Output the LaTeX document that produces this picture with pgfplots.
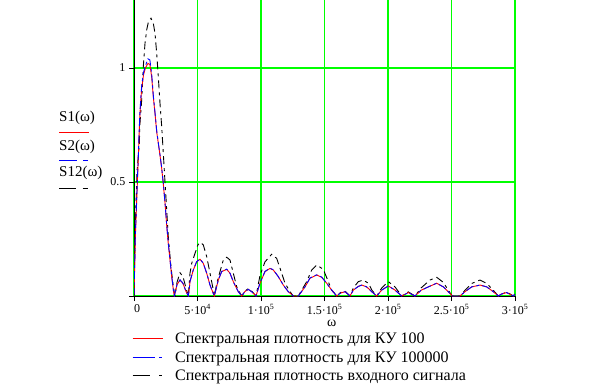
\documentclass[border=0pt]{standalone}
\usepackage{fontspec}
\setmainfont{Liberation Serif}
\usepackage{pgfplots}
\pgfplotsset{compat=1.18}
\definecolor{gridgreen}{RGB}{0,255,0}
\begin{document}
\begin{tikzpicture}[x=1pt,y=1pt]
\path[use as bounding box] (0,0) rectangle (599,384);
\begin{axis}[
  at={(134pt,88pt)}, anchor=south west,
  scale only axis, width=381pt, height=296pt,
  xmin=0, xmax=30, ymin=0, ymax=1.298,
  axis x line=bottom, axis y line=left,
  axis line style={-, line width=0.9pt, black},
  xtick={0,5,10,15,20,25,30}, ytick={0,0.5,1},
  xticklabels={\makebox[0pt][l]{0}, 5·10\textsuperscript{4}, 1·10\textsuperscript{5}, 1.5·10\textsuperscript{5}, 2·10\textsuperscript{5}, 2.5·10\textsuperscript{5}, 3·10\textsuperscript{5}},
  yticklabels={,0.5,1},
  tick align=outside, major tick length=5pt,
  every tick/.style={black, line width=0.8pt},
  xmajorgrids, ymajorgrids,
  every axis grid/.style={draw=gridgreen, line width=1.4pt},
  major grid style={draw=gridgreen, line width=1.4pt},
  ticklabel style={font=\fontsize{12}{14}\selectfont},
  /pgf/number format/assume math mode=true,
]
\addplot[black, line width=0.9pt, dash pattern=on 8pt off 4pt on 3pt off 4pt] coordinates {
(0,0)(0.05,0.15)(0.1,0.3)(0.24,0.55)(0.42,0.67)(0.47,0.757)(0.606,0.86)(0.732,1.006)(0.811,1.064)(0.866,1.108)(1.0,1.167)(1.126,1.20)(1.339,1.218)(1.52,1.196)(1.654,1.152)(1.787,1.064)(1.913,0.962)(2.047,0.845)(2.181,0.743)(2.307,0.626)(2.441,0.5)(2.575,0.377)(2.701,0.26)(2.835,0.173)(2.969,0.1)(3.10,0.04)(3.228,0)
(3.386,0.06)(3.622,0.102)(3.858,0.085)(4.094,0.035)(4.276,0)
(4.409,0.1)(4.543,0.143)(4.803,0.187)(5.04,0.225)(5.252,0.235)(5.457,0.224)(5.724,0.173)(5.984,0.1)(6.244,0.026)(6.323,0)
(6.535,0.06)(6.772,0.107)(7.031,0.158)(7.299,0.17)(7.559,0.158)(7.819,0.1)(8.087,0.04)(8.48,0)
(8.74,0.022)(9.0,0.032)(9.29,0.02)(9.606,0)
(9.921,0.09)(10.315,0.15)(10.843,0.183)(11.236,0.165)(11.63,0.1)(11.89,0.056)(12.283,0.019)(12.543,0)(12.937,0)
(13.2,0.025)(13.598,0.063)(13.992,0.114)(14.386,0.136)(14.906,0.117)(15.299,0.063)(15.567,0.026)(15.961,0)
(16.25,0.015)(16.614,0.022)(17.008,0)
(17.268,0.035)(17.661,0.063)(18.055,0.07)(18.449,0.056)(18.74,0.025)(19.11,0)
(19.504,0.035)(20.024,0.063)(20.551,0.04)(21.079,0)
(21.598,0.018)(22.126,0)
(22.598,0.035)(23.307,0.07)(23.835,0.082)(24.354,0.06)(24.748,0.025)(25.063,0)(25.669,0)
(26.063,0.025)(26.591,0.055)(27.244,0.07)(27.772,0.055)(28.291,0.025)(28.685,0)
(29.346,0.018)(29.866,0)(30,0.01)
};
\addplot[red, line width=0.9pt] coordinates {
(0,0)(0.05,0.12)(0.1,0.25)(0.2,0.4)(0.28,0.52)(0.34,0.6)(0.39,0.69)(0.47,0.8)(0.6,0.91)(0.75,0.97)(0.9,1.0)(1.1,1.02)(1.25,1.015)(1.39,0.962)(1.52,0.874)(1.654,0.80)(1.787,0.72)(1.913,0.67)(2.04,0.62)(2.18,0.56)(2.31,0.49)(2.44,0.41)(2.575,0.31)(2.70,0.23)(2.835,0.158)(2.97,0.085)(3.10,0.026)(3.17,0)
(3.386,0.05)(3.622,0.07)(3.858,0.055)(4.094,0.02)(4.276,0)
(4.35,0.03)(4.409,0.063)(4.669,0.114)(4.937,0.15)(5.197,0.161)(5.457,0.143)(5.724,0.1)(5.984,0.048)(6.323,0)
(6.638,0.07)(6.906,0.107)(7.299,0.117)(7.559,0.1)(7.819,0.063)(8.213,0.019)(8.48,0)
(8.74,0.02)(9.0,0.029)(9.291,0.018)(9.606,0)
(9.921,0.056)(10.315,0.107)(10.709,0.121)(10.969,0.114)(11.362,0.085)(11.756,0.048)(12.15,0.019)(12.543,0)(12.937,0)
(13.465,0.04)(13.858,0.078)(14.386,0.092)(14.78,0.082)(15.173,0.056)(15.567,0.026)(15.961,0)
(16.22,0.012)(16.614,0.019)(17.008,0)
(17.268,0.026)(17.661,0.042)(17.929,0.048)(18.323,0.04)(18.717,0.019)(19.11,0)
(19.504,0.026)(20.024,0.044)(20.551,0.026)(21.079,0)
(21.598,0.015)(22.126,0)
(22.598,0.025)(23.173,0.04)(23.835,0.056)(24.354,0.04)(24.748,0.019)(25.063,0)(25.669,0)
(26.063,0.019)(26.591,0.04)(27.244,0.048)(27.772,0.04)(28.291,0.019)(28.685,0)
(28.976,0.01)(29.346,0.015)(29.685,0.005)(29.866,0)(30,0.008)
};
\addplot[blue, line width=0.9pt, dash pattern=on 8pt off 3pt on 3pt off 3pt] coordinates {
(0,0)(0.05,0.13)(0.1,0.26)(0.2,0.41)(0.28,0.53)(0.34,0.61)(0.39,0.70)(0.47,0.81)(0.6,0.92)(0.75,0.98)(0.9,1.01)(1.1,1.04)(1.25,1.035)(1.39,0.975)(1.52,0.88)(1.654,0.805)(1.787,0.725)(1.913,0.672)(2.04,0.622)(2.18,0.562)(2.31,0.492)(2.44,0.412)(2.575,0.312)(2.70,0.232)(2.835,0.16)(2.97,0.087)(3.10,0.027)(3.17,0)
(3.386,0.05)(3.622,0.071)(3.858,0.056)(4.094,0.02)(4.276,0)
(4.35,0.03)(4.409,0.064)(4.669,0.115)(4.937,0.151)(5.197,0.162)(5.457,0.144)(5.724,0.1)(5.984,0.048)(6.323,0)
(6.638,0.07)(6.906,0.108)(7.299,0.118)(7.559,0.1)(7.819,0.063)(8.213,0.019)(8.48,0)
(8.74,0.02)(9.0,0.029)(9.291,0.018)(9.606,0)
(9.921,0.057)(10.315,0.108)(10.709,0.122)(10.969,0.115)(11.362,0.085)(11.756,0.048)(12.15,0.019)(12.543,0)(12.937,0)
(13.465,0.04)(13.858,0.079)(14.386,0.093)(14.78,0.083)(15.173,0.056)(15.567,0.026)(15.961,0)
(16.22,0.012)(16.614,0.019)(17.008,0)
(17.268,0.026)(17.661,0.042)(17.929,0.048)(18.323,0.04)(18.717,0.019)(19.11,0)
(19.504,0.026)(20.024,0.044)(20.551,0.026)(21.079,0)
(21.598,0.015)(22.126,0)
(22.598,0.025)(23.173,0.04)(23.835,0.056)(24.354,0.04)(24.748,0.019)(25.063,0)(25.669,0)
(26.063,0.019)(26.591,0.04)(27.244,0.048)(27.772,0.04)(28.291,0.019)(28.685,0)
(28.976,0.01)(29.346,0.015)(29.685,0.005)(29.866,0)(30,0.008)
};
\end{axis}
% x label
\node[inner sep=0, font=\fontsize{14}{16}\selectfont] at (331.7,61) {ω};
% left labels
\node[anchor=west, inner sep=0, font=\fontsize{15}{17}\selectfont] at (59,265.7) {S1(ω)};
\draw[draw=red, line width=0.9pt] (59,251.7) -- (89,251.7);
\node[anchor=west, inner sep=0, font=\fontsize{15}{17}\selectfont] at (59,237.3) {S2(ω)};
\draw[draw=blue, line width=1.1pt] (59,223.3) -- (76.7,223.3) (83.3,223.3) -- (87.7,223.3);
\node[anchor=west, inner sep=0, font=\fontsize{15}{17}\selectfont] at (59,211.3) {S12(ω)};
\draw[draw=black, line width=0.9pt] (59,195.7) -- (75.7,195.7) (82.7,195.7) -- (87.7,195.7);
% bottom legend
\draw[draw=red, line width=0.9pt] (132.7,45.2) -- (162.7,45.2);
\node[anchor=west, inner sep=0, font=\fontsize{16}{18}\selectfont] at (175,44) {Спектральная плотность для КУ 100};
\draw[draw=blue, line width=1.1pt] (132.7,26.2) -- (155,26.2) (159.3,26.2) -- (162.3,26.2);
\node[anchor=west, inner sep=0, font=\fontsize{16}{18}\selectfont] at (175,25) {Спектральная плотность для КУ 100000};
\draw[draw=black, line width=0.9pt] (132.7,8.7) -- (150,8.7) (159,8.7) -- (162,8.7);
\node[anchor=west, inner sep=0, font=\fontsize{16}{18}\selectfont] at (175,7.5) {Спектральная плотность входного сигнала};
\end{tikzpicture}
\end{document}
